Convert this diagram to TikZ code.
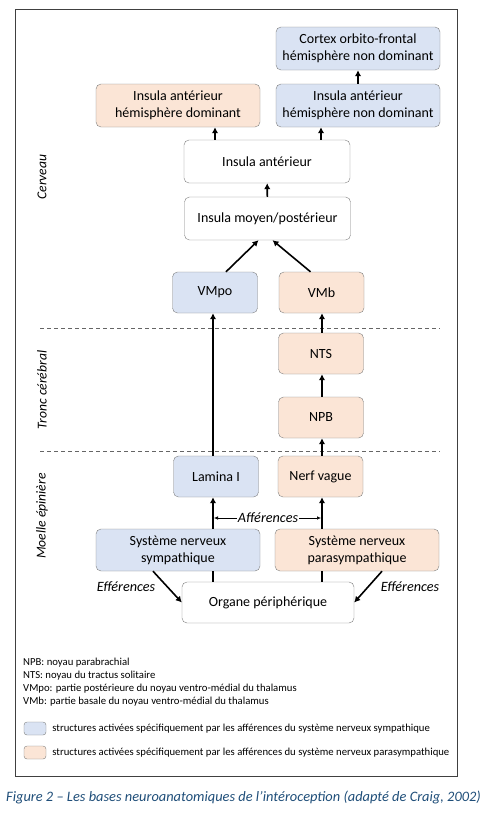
\documentclass[tikz,border=0pt]{standalone}
\usepackage{fontspec}
\setmainfont{Carlito}
\usetikzlibrary{positioning,arrows.meta}
\definecolor{symblue}{HTML}{DAE3F3}
\definecolor{paraorange}{HTML}{FBE5D6}
\definecolor{boxgray}{HTML}{7F7F7F}
\definecolor{capblue}{HTML}{1F4E79}
\tikzset{
  box node/.style={draw=boxgray,rounded corners=5pt,fill=white,align=center,
    font=\fontsize{14}{17}\selectfont,inner sep=2pt},
  wide node/.style={box node,minimum width=164pt,minimum height=43pt},
  small node/.style={box node,minimum width=85pt,minimum height=41pt},
  blue node/.style={fill=symblue},
  orange node/.style={fill=paraorange},
  big arrow/.style={line width=1.6pt,-{Latex[length=6pt,width=6.5pt]}},
  thin arrow/.style={line width=0.6pt,-{Latex[length=4pt,width=3.5pt]}},
  side label/.style={rotate=90,font=\fontsize{13.6}{15}\selectfont\itshape},
  flow label/.style={font=\fontsize{14.2}{16}\selectfont\itshape,inner sep=1pt},
  legend text/.style={anchor=west,font=\fontsize{10.7}{12}\selectfont,inner sep=0pt}
}
\begin{document}
\begin{tikzpicture}[x=1pt,y=-1pt]
\useasboundingbox (0,0) rectangle (491,815);
\draw[black!75,line width=1pt] (15,9) rectangle (457,776);

% cerveau
\node[wide node,blue node] (cortex) at (358,48.5) {Cortex orbito-frontal\\hémisphère non dominant};
\node[wide node,orange node] (insdom) at (178,105.5) {Insula antérieur\\hémisphère dominant};
\node[wide node,blue node] (insnd) at (358,105.5) {Insula antérieur\\hémisphère non dominant};
\node[wide node,minimum width=166pt] (insant) at (267,161.5) {Insula antérieur};
\node[wide node,minimum width=166pt] (insmoy) at (267.5,218.5) {Insula moyen/postérieur};
\node[small node,blue node] (vmpo) at (215,292.5) {VMpo};
\node[small node,orange node] (vmb) at (321.5,292.5) {VMb};

% tronc cerebral
\node[small node,orange node] (nts) at (321,353.5) {NTS};
\node[small node,orange node] (npb) at (321,417.5) {NPB};

% moelle epiniere
\node[small node,blue node] (lamina) at (216,476.5) {Lamina I};
\node[small node,orange node] (nerf) at (320.5,476.5) {Nerf vague};
\node[wide node,minimum height=42pt,blue node] (symp) at (178,550) {Système nerveux\\sympathique};
\node[wide node,minimum height=42pt,orange node] (para) at (357,550) {Système nerveux\\parasympathique};
\node[wide node,minimum width=172pt,minimum height=41pt] (organe) at (268,602.5) {Organe périphérique};

\node[flow label] (aff) at (268,518) {Afférences};
\node[flow label] (effg) at (126,587) {Efférences};
\node[flow label] (effd) at (410,587) {Efférences};

\node[side label] (cerv) at (42,177) {Cerveau};
\node[side label] (tronc) at (42,390) {Tronc cérébral};
\node[side label] (moelle) at (42,516) {Moelle épinière};

\draw[boxgray!80!black,line width=0.8pt,dash pattern=on 4pt off 3pt] (40,328) -- (440,328);
\draw[boxgray!80!black,line width=0.8pt,dash pattern=on 4pt off 3pt] (40,451) -- (440,451);

% connexions
\draw[big arrow] (insnd) -- (cortex);
\draw[big arrow] (insant.north -| vmpo) -- (insdom.south -| vmpo);
\draw[big arrow] (insant.north -| 321,0) -- (insnd.south -| 321,0);
\draw[big arrow] (insmoy) -- (insant);
\draw[big arrow] ([xshift=11pt]vmpo.north) -- ([xshift=-9pt]insmoy.south);
\draw[big arrow] ([xshift=-11pt]vmb.north) -- ([xshift=5pt]insmoy.south);
\draw[big arrow] (lamina.north -| 213,0) -- (vmpo.south -| 213,0);
\draw[big arrow] (nts.north -| 322,0) -- (vmb.south -| 322,0);
\draw[big arrow] (npb.north -| 322,0) -- (nts.south -| 322,0);
\draw[big arrow] (nerf.north -| 322,0) -- (npb.south -| 322,0);
\draw[line width=1.6pt] (organe.north -| 213,0) -- (symp.south -| 213,0);
\draw[big arrow] (symp.north -| 213,0) -- (lamina.south -| 213,0);
\draw[line width=1.6pt] (organe.north -| 322,0) -- (para.south -| 322,0);
\draw[big arrow] (para.north -| 322,0) -- (nerf.south -| 322,0);
\draw[thin arrow] (aff.west) -- (aff.west -| 214,0);
\draw[thin arrow] (aff.east) -- (aff.east -| 321,0);
\draw[big arrow] (symp.south -| 153,0) -- (organe.west);
\draw[big arrow] (para.south -| 382,0) -- (organe.east);

% legende
\node[legend text] (l1) at (23,663) {NPB: noyau parabrachial};
\node[legend text] (l2) at (23,676) {NTS: noyau du tractus solitaire};
\node[legend text] (l3) at (23,689) {VMpo: partie postérieure du noyau ventro-médial du thalamus};
\node[legend text] (l4) at (23,702) {VMb: partie basale du noyau ventro-médial du thalamus};
\node[draw=boxgray,fill=symblue,rounded corners=3pt,minimum width=22pt,minimum height=13pt,inner sep=0pt] (lb) at (35,728.5) {};
\node[draw=boxgray,fill=paraorange,rounded corners=3pt,minimum width=22pt,minimum height=13pt,inner sep=0pt] (lo) at (35,752.5) {};
\node[legend text,right=6pt of lb] (tb) {structures activées spécifiquement par les afférences du système nerveux sympathique};
\node[legend text,right=6pt of lo] (to) {structures activées spécifiquement par les afférences du système nerveux parasympathique};

\node[font=\fontsize{14.4}{16}\selectfont\itshape,text=capblue] (cap) at (243.5,797) {Figure 2 – Les bases neuroanatomiques de l’intéroception (adapté de Craig, 2002)};
\end{tikzpicture}
\end{document}
